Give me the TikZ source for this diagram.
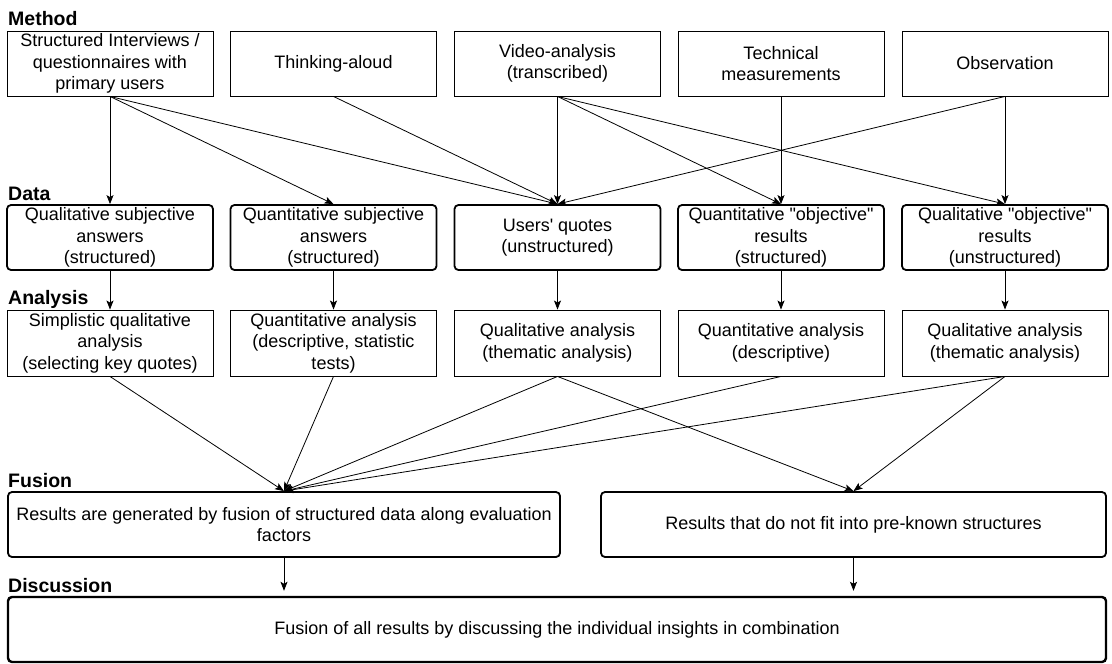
\documentclass[tikz,border=0pt]{standalone}
\usepackage{fontspec}
\setmainfont{Liberation Sans}[Ligatures=TeXOff]
\usetikzlibrary{arrows.meta}
\tikzset{
  txt/.style={font=\fontsize{18}{21.5}\selectfont, align=center, inner sep=0pt},
  thinbox/.style={txt, draw, line width=0.9pt, minimum width=206pt, minimum height=65pt},
  thickbox/.style={txt, draw, line width=1.8pt, rounded corners=4pt, minimum height=65pt},
  lbl/.style={font=\fontsize{19.5}{22}\selectfont\bfseries, anchor=base west, inner sep=0pt},
  arr/.style={line width=0.8pt, -{Stealth[length=9pt,width=7pt,inset=2pt]}},
}
\begin{document}
\begin{tikzpicture}[x=1pt,y=-1pt]
\useasboundingbox (0,0) rectangle (1112,664);

% section labels
\node[lbl] (lm) at (8,25) {Method};
\node[lbl] (ld) at (8,200) {Data};
\node[lbl] (la) at (8,304) {Analysis};
\node[lbl] (lf) at (8,487) {Fusion};
\node[lbl] (lx) at (8,592) {Discussion};

% method
\node[thinbox] (m1) at (110,63.5) {Structured Interviews /\\questionnaires with\\primary users};
\node[thinbox] (m2) at (333.5,63.5) {Thinking-aloud};
\node[thinbox] (m3) at (557.5,63.5) {Video-analysis\\(transcribed)};
\node[thinbox] (m4) at (781,63.5) {Technical\\measurements};
\node[thinbox] (m5) at (1005,63.5) {Observation};

% data
\node[thickbox, minimum width=206pt] (d1) at (110,237.5) {Qualitative subjective\\answers\\(structured)};
\node[thickbox, minimum width=206pt] (d2) at (333.5,237.5) {Quantitative subjective\\answers\\(structured)};
\node[thickbox, minimum width=206pt] (d3) at (557.5,237.5) {Users' quotes\\(unstructured)};
\node[thickbox, minimum width=206pt] (d4) at (781,237.5) {Quantitative "objective"\\results\\(structured)};
\node[thickbox, minimum width=206pt] (d5) at (1005,237.5) {Qualitative "objective"\\results\\(unstructured)};

% analysis
\node[thinbox, minimum height=66pt] (a1) at (110,343) {Simplistic qualitative\\analysis\\(selecting key quotes)};
\node[thinbox, minimum height=66pt] (a2) at (333.5,343) {Quantitative analysis\\(descriptive, statistic\\tests)};
\node[thinbox, minimum height=66pt] (a3) at (557.5,343) {Qualitative analysis\\(thematic analysis)};
\node[thinbox, minimum height=66pt] (a4) at (781,343) {Quantitative analysis\\(descriptive)};
\node[thinbox, minimum height=66pt] (a5) at (1005,343) {Qualitative analysis\\(thematic analysis)};

% fusion
\node[thickbox, minimum width=552pt] (f1) at (284,524.5) {Results are generated by fusion of structured data along evaluation\\factors};
\node[thickbox, minimum width=505pt] (f2) at (853.5,524.5) {Results that do not fit into pre-known structures};

% discussion
\node[thickbox, line width=2.4pt, minimum width=1098pt] (dd) at (557,629.5) {Fusion of all results by discussing the individual insights in combination};

% method -> data
\draw[arr] (m1.south) -- (d1.north);
\draw[arr] (m1.south) -- (d2.north);
\draw[arr] (m1.south) -- (d3.north);
\draw[arr] (m2.south) -- (d3.north);
\draw[arr] (m3.south) -- (d3.north);
\draw[arr] (m3.south) -- (d4.north);
\draw[arr] (m3.south) -- (d5.north);
\draw[arr] (m4.south) -- (d4.north);
\draw[arr] (m5.south) -- (d3.north);
\draw[arr] (m5.south) -- (d5.north);

% data -> analysis
\draw[arr] (d1.south) -- (a1.north);
\draw[arr] (d2.south) -- (a2.north);
\draw[arr] (d3.south) -- (a3.north);
\draw[arr] (d4.south) -- (a4.north);
\draw[arr] (d5.south) -- (a5.north);

% analysis -> fusion
\draw[arr] (a1.south) -- (f1.north);
\draw[arr] (a2.south) -- (f1.north);
\draw[arr] (a3.south) -- (f1.north);
\draw[arr] (a4.south) -- (f1.north);
\draw[arr] (a5.south) -- (f1.north);
\draw[arr] (a3.south) -- (f2.north);
\draw[arr] (a5.south) -- (f2.north);

% fusion -> discussion
\draw[arr, shorten >=5pt] (f1.south) -- (f1.south |- dd.north);
\draw[arr, shorten >=5pt] (f2.south) -- (f2.south |- dd.north);
\end{tikzpicture}
\end{document}
